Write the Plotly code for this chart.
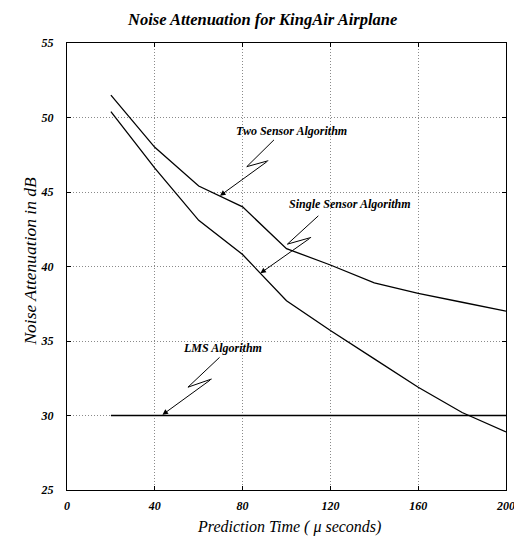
import plotly.graph_objects as go

# ---- data ----
prediction_time = [20, 40, 60, 80, 100, 120, 140, 160, 180, 200]
two_sensor = [51.5, 48.0, 45.4, 44.0, 41.2, 40.1, 38.9, 38.2, 37.6, 37.0]
single_sensor = [50.4, 46.6, 43.1, 40.8, 37.7, 35.7, 33.8, 31.9, 30.2, 28.9]
lms = [30.0, 30.0, 30.0, 30.0, 30.0, 30.0, 30.0, 30.0, 30.0, 30.0]

x_ticks = [0, 40, 80, 120, 160, 200]
y_ticks = [25, 30, 35, 40, 45, 50, 55]

# callout labels: text, text position, zigzag points, arrow tip
callout_text = ["Two Sensor Algorithm", "Single Sensor Algorithm", "LMS Algorithm"]
callout_text_x = [102.3, 128.9, 70.8]
callout_text_y = [49.1, 44.2, 34.5]
callout_zig_x = [[94.3, 81.9, 91.7], [114.5, 100.4, 111.2], [69.5, 55.1, 65.9]]
callout_zig_y = [[48.5, 46.7, 47.1], [43.4, 41.5, 41.95], [33.9, 31.9, 32.45]]
callout_tip_x = [69.7, 88.1, 43.5]
callout_tip_y = [44.75, 39.55, 30.05]

SERIF = "Liberation Serif, Times New Roman, serif"

fig = go.Figure()
for name, ys in [("Two Sensor", two_sensor), ("Single Sensor", single_sensor), ("LMS", lms)]:
    fig.add_trace(go.Scatter(x=prediction_time, y=ys, mode="lines", name=name,
                             line=dict(color="black", width=1.3), showlegend=False))

annotations = []
for i, t in enumerate(callout_text):
    fig.add_trace(go.Scatter(x=callout_zig_x[i], y=callout_zig_y[i], mode="lines",
                             line=dict(color="black", width=1), showlegend=False,
                             hoverinfo="skip"))
    annotations.append(dict(x=callout_tip_x[i], y=callout_tip_y[i], xref="x", yref="y",
                            ax=callout_zig_x[i][2], ay=callout_zig_y[i][2],
                            axref="x", ayref="y", text="", showarrow=True,
                            arrowhead=2, arrowsize=1.1, arrowwidth=1, arrowcolor="black",
                            standoff=0, startstandoff=0))
    annotations.append(dict(x=callout_text_x[i], y=callout_text_y[i], xref="x", yref="y",
                            text=t, showarrow=False,
                            font=dict(family=SERIF, size=12, color="black",
                                      style="italic", weight="bold")))

# chart title (as an annotation so it can sit close to the top edge)
annotations.append(dict(x=(261.5 - 67) / 439, y=1, xref="paper", yref="paper", yshift=24,
                        text="Noise Attenuation for KingAir Airplane", showarrow=False,
                        xanchor="center", yanchor="middle",
                        font=dict(family=SERIF, size=16.5, color="black", style="italic",
                                  weight="bold")))
# axis titles
annotations.append(dict(x=0.506, y=0, xref="paper", yref="paper", yshift=-37,
                        text="Prediction Time ( \u03bc seconds)", showarrow=False,
                        yanchor="middle",
                        font=dict(family=SERIF, size=16, color="black", style="italic")))
annotations.append(dict(x=0, y=0.511, xref="paper", yref="paper", xshift=-37,
                        text="Noise Attenuation in dB", showarrow=False, textangle=-90,
                        xanchor="center",
                        font=dict(family=SERIF, size=17.5, color="black", style="italic")))

# page body has an 8px margin, so the figure is sized to fill the rest of the window
fig.update_layout(
    width=514, height=533,
    margin=dict(l=59, r=16, t=35, b=51, autoexpand=False),
    paper_bgcolor="white", plot_bgcolor="white",
    annotations=annotations,
    hovermode=False,
)
axis_common = dict(showline=True, linecolor="black", linewidth=1.2, mirror="ticks",
                   ticks="inside", ticklen=4, tickcolor="black",
                   showgrid=True, gridcolor="#8a8a8a", griddash="1px,2px", gridwidth=1,
                   zeroline=False, automargin=False,
                   tickfont=dict(family=SERIF, size=12, color="black",
                                 style="italic", weight="bold"))
fig.update_xaxes(range=[0, 200], tickvals=x_ticks, ticktext=[str(v) for v in x_ticks],
                 ticklabelstandoff=4, **axis_common)
fig.update_yaxes(range=[25, 55], tickvals=y_ticks, ticktext=[str(v) for v in y_ticks],
                 ticklabelstandoff=10, **axis_common)

fig.write_html("out.html")
